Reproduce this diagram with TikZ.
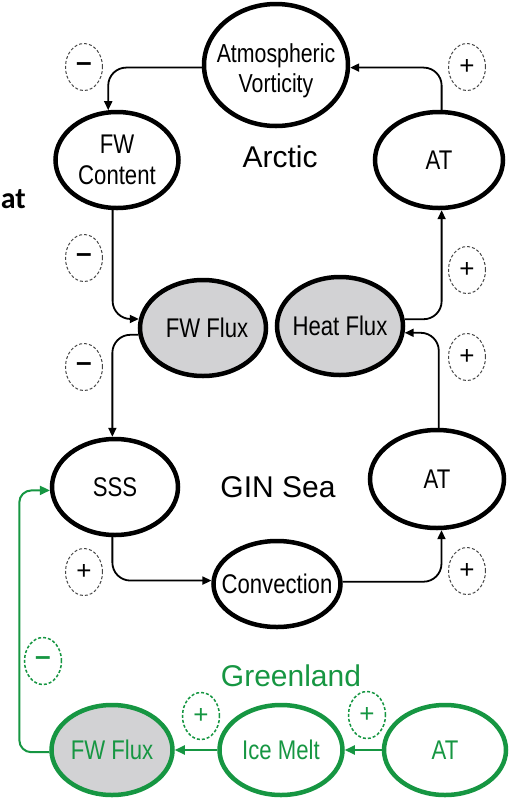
\documentclass[tikz,border=0pt]{standalone}
\usepackage{fontspec}
\setmainfont{Liberation Sans}
\newfontfamily\nodefont[FakeStretch=0.82]{Liberation Sans}
\newfontfamily\calfont{Carlito}
\usetikzlibrary{shapes.geometric,arrows.meta}
\definecolor{grn}{RGB}{22,150,66}
\definecolor{fluxgray}{RGB}{210,210,212}
\definecolor{signgray}{RGB}{70,70,70}
\newcommand{\mb}[1]{\makebox[0pt]{#1}}
\newcommand{\mns}{{\bfseries\fontsize{28}{28}\selectfont –}}
\begin{document}
\begin{tikzpicture}[x=1pt,y=-1pt,
  box/.style={ellipse, draw, line width=4.5pt, inner sep=0pt,
    font=\nodefont\fontsize{27}{31}\selectfont, align=center},
  flux/.style={box, fill=fluxgray},
  gbox/.style={box, draw=grn, text=grn},
  conn/.style={line width=1.8pt, rounded corners=18pt, -{Triangle[length=9pt,width=8pt]}},
  gconn/.style={draw=grn, line width=2pt, rounded corners=12pt, -{Triangle[length=10pt,width=9pt]}},
  sign/.style={ellipse, draw=signgray, dash pattern=on 3pt off 2pt, line width=1pt,
    minimum width=37pt, minimum height=47pt, inner sep=0pt, font=\fontsize{26}{26}\selectfont},
  gsign/.style={sign, draw=grn, text=grn, line width=1.5pt},
  region/.style={inner sep=0pt, font=\fontsize{30}{30}\selectfont}
]
\useasboundingbox (0,0) rectangle (510,804);

% Arctic
\node[box, minimum width=144pt, minimum height=122pt,
  label={[font=\nodefont\fontsize{26}{30}\selectfont, align=center, yshift=-6pt]center:Atmospheric\\Vorticity}]
  (vort) at (276,65) {};
\node[box, minimum width=123pt, minimum height=96pt] (fwc) at (117,160) {\mb{FW}\\\mb{Content}};
\node[box, minimum width=128pt, minimum height=96pt] (atA) at (439,160) {\mb{AT}};
\node[flux, minimum width=126pt, minimum height=96pt] (fwf) at (203,328) {\mb{\hspace{8pt}FW Flux}};
\node[flux, minimum width=126pt, minimum height=98pt] (hf) at (340,326) {\mb{Heat Flux}};

% GIN Sea
\node[box, minimum width=126pt, minimum height=96pt] (sss) at (115,487) {\mb{SSS}};
\node[box, minimum width=134pt, minimum height=98pt] (atG) at (437,479) {\mb{AT}};
\node[box, minimum width=127pt, minimum height=86pt] (conv) at (277,584) {\mb{Convection}};

% Greenland
\node[gbox, fill=fluxgray, minimum width=121pt, minimum height=90pt] (gfw) at (112,750) {\mb{FW Flux}};
\node[gbox, minimum width=123pt, minimum height=90pt] (ice) at (281,750) {\mb{Ice Melt}};
\node[gbox, minimum width=122pt, minimum height=90pt] (gat) at (445,750) {\mb{AT}};

% region labels
\node[region] (arctic) at (280,157) {Arctic};
\node[region] (gin) at (278,487) {GIN Sea};
\node[region, text=grn] (green) at (291,676) {Greenland};
\node[font=\calfont\bfseries\fontsize{30}{30}\selectfont, anchor=base east, inner sep=0pt] (at) at (26,208) {at};

% signs
\node[sign] (s1) at (84,67) {\mns};
\node[sign] (s2) at (467,67) {+};
\node[sign] (s3) at (84,258) {\mns};
\node[sign] (s4) at (467,270) {+};
\node[sign] (s5) at (84,367) {\mns};
\node[sign] (s6) at (467,357) {+};
\node[sign] (s7) at (84,572) {+};
\node[sign] (s8) at (467,571) {+};
\node[gsign] (g1) at (43,661) {\mns};
\node[gsign] (g2) at (201,716) {+};
\node[gsign] (g3) at (367,715) {+};

% connectors
\draw[conn] (vort.182) -| (fwc.100);
\draw[conn] (atA.87) |- (vort.358);
\draw[conn] (fwc.265) |- (fwf.172);
\draw[conn] (fwf.186) -| (sss.93);
\draw[conn] (hf.6) -| (atA.273);
\draw[conn] (atG.88) |- (hf.354);
\draw[conn] (sss.267) |- (conv.177);
\draw[conn] (conv.2) -| (atG.275);
\draw[gconn] (gat.west) -- (ice.east);
\draw[gconn] (ice.west) -- (gfw.east);
\draw[gconn] (gfw.182) -- ++(-30,0) |- (sss.183);
\end{tikzpicture}
\end{document}
